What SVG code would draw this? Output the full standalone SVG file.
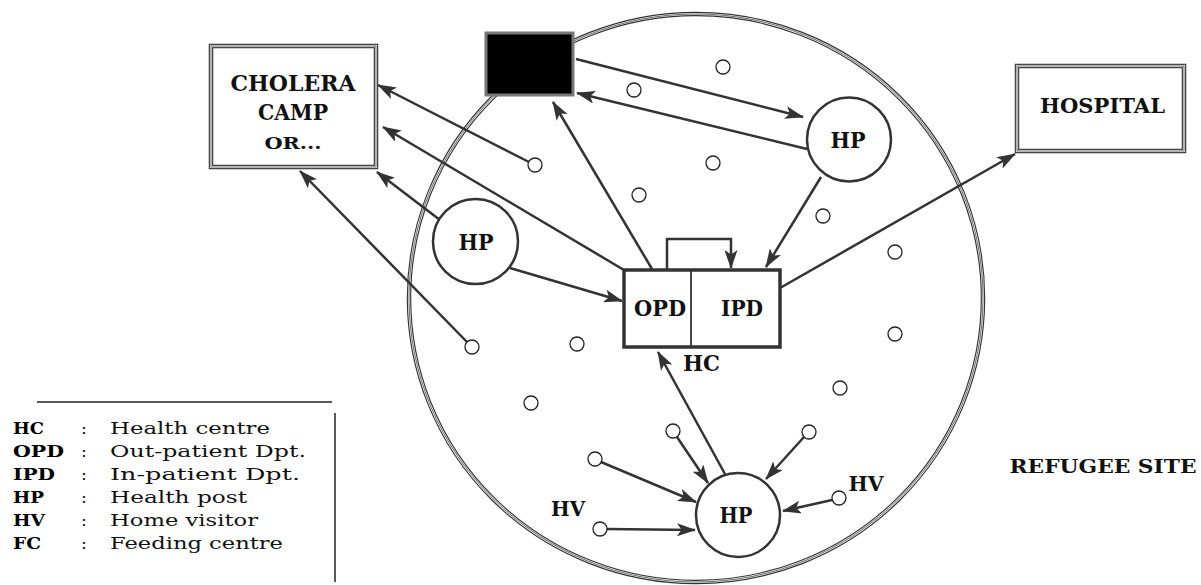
<svg xmlns="http://www.w3.org/2000/svg" width="1201" height="585" viewBox="0 0 1201 585">
<style>
.site{fill:none;stroke:#333;stroke-width:4.5}
.site2{fill:none;stroke:#fff;stroke-width:2.2}
.site3{fill:none;stroke:#444;stroke-width:0.8}
.con{fill:none;stroke:#333;stroke-width:2.5}
.arr{marker-end:url(#ah)}
.hp{fill:#fff;stroke:#333;stroke-width:2.5}
.dot{fill:#fff;stroke:#222;stroke-width:1.3}
.box{fill:#fff;stroke:#333;stroke-width:4.5}
.box2{fill:none;stroke:#fff;stroke-width:2.2}
.box3{fill:none;stroke:#444;stroke-width:0.8}
.b{font-family:"DejaVu Serif","Liberation Serif",serif;font-weight:bold;fill:#111;text-anchor:middle}
.lg{font-family:"DejaVu Serif","Liberation Serif",serif;font-size:17.5px;fill:#111}
.lgb{font-family:"DejaVu Serif","Liberation Serif",serif;font-size:17.5px;font-weight:bold;fill:#000}
</style>
<defs>
<marker id="ah" markerUnits="userSpaceOnUse" viewBox="0 0 19 13" markerWidth="19" markerHeight="13" refX="18" refY="6.5" orient="auto">
<path d="M0,0 L19,6.5 L0,13 L4.5,6.5 Z" fill="#333"/>
</marker>
</defs>
<g id="refugee-site">
<ellipse class="site" cx="696" cy="298" rx="287" ry="284"/>
<ellipse class="site2" cx="696" cy="298" rx="287" ry="284"/>
<ellipse class="site3" cx="696" cy="298" rx="287" ry="284"/>
</g>
<g id="connectors">
<line class="con arr" x1="529" y1="162" x2="378" y2="85"/>
<line class="con arr" x1="624" y1="270" x2="383" y2="127"/>
<line class="con arr" x1="440" y1="220" x2="377" y2="172"/>
<line class="con arr" x1="467" y1="342" x2="300" y2="171"/>
<line class="con arr" x1="510" y1="268" x2="622" y2="301"/>
<line class="con arr" x1="652" y1="269" x2="553" y2="102"/>
<line class="con arr" x1="576" y1="59" x2="803" y2="117"/>
<line class="con arr" x1="807" y1="149" x2="577" y2="93"/>
<line class="con arr" x1="821" y1="177" x2="766" y2="267"/>
<line class="con arr" x1="780" y1="288" x2="1015" y2="154"/>
<path class="con arr" d="M667,270 V239 H731 V268"/>
<line class="con arr" x1="725" y1="474" x2="658" y2="352"/>
<line class="con arr" x1="601" y1="462" x2="696" y2="502"/>
<line class="con arr" x1="677" y1="437" x2="708" y2="483"/>
<line class="con arr" x1="804" y1="437" x2="766" y2="479"/>
<line class="con arr" x1="832" y1="500" x2="783" y2="511"/>
<line class="con arr" x1="607" y1="529" x2="695" y2="530"/>
</g>
<g id="cholera-camp">
<rect class="box" x="211" y="46" width="165" height="121"/>
<rect class="box2" x="211" y="46" width="165" height="121"/>
<rect class="box3" x="211" y="46" width="165" height="121"/>
<text class="b" x="293" y="91" font-size="22" textLength="125" lengthAdjust="spacingAndGlyphs">CHOLERA</text>
<text class="b" x="293" y="120" font-size="22" textLength="70" lengthAdjust="spacingAndGlyphs">CAMP</text>
<text class="b" x="293" y="149" font-size="16.5" textLength="57" lengthAdjust="spacingAndGlyphs">OR...</text>
</g>
<g id="black-box">
<rect x="486" y="33" width="87" height="62" fill="#000" stroke="#777" stroke-width="3"/>
</g>
<g id="hospital">
<rect class="box" x="1017" y="66" width="167" height="85"/>
<rect class="box2" x="1017" y="66" width="167" height="85"/>
<rect class="box3" x="1017" y="66" width="167" height="85"/>
<text class="b" x="1102.5" y="113" font-size="20.5" textLength="125" lengthAdjust="spacingAndGlyphs">HOSPITAL</text>
</g>
<g id="hp-top-right">
<circle class="hp" cx="849" cy="139.5" r="42"/>
<text class="b" x="848" y="148" font-size="22" textLength="35" lengthAdjust="spacingAndGlyphs">HP</text>
</g>
<g id="hp-left">
<circle class="hp" cx="475.5" cy="241.5" r="42.5"/>
<text class="b" x="476" y="250" font-size="22" textLength="35" lengthAdjust="spacingAndGlyphs">HP</text>
</g>
<g id="hp-bottom">
<circle class="hp" cx="738" cy="515" r="42"/>
<text class="b" x="736" y="523" font-size="22" textLength="33" lengthAdjust="spacingAndGlyphs">HP</text>
</g>
<g id="health-centre">
<rect x="624" y="270" width="156" height="77" fill="#fff" stroke="#333" stroke-width="3.5"/>
<line x1="691" y1="270" x2="691" y2="347" stroke="#333" stroke-width="1.8"/>
<text class="b" x="660" y="316" font-size="22" textLength="52" lengthAdjust="spacingAndGlyphs">OPD</text>
<text class="b" x="742" y="316" font-size="22" textLength="42" lengthAdjust="spacingAndGlyphs">IPD</text>
<text class="b" x="701.5" y="371" font-size="22" textLength="37" lengthAdjust="spacingAndGlyphs">HC</text>
</g>
<g id="households">
<circle class="dot" cx="723" cy="67" r="7"/>
<circle class="dot" cx="634" cy="90" r="7"/>
<circle class="dot" cx="713" cy="163" r="7"/>
<circle class="dot" cx="639" cy="195" r="7"/>
<circle class="dot" cx="823" cy="216" r="7"/>
<circle class="dot" cx="535" cy="165" r="7"/>
<circle class="dot" cx="895" cy="252" r="7"/>
<circle class="dot" cx="895" cy="334" r="7"/>
<circle class="dot" cx="840" cy="388" r="7"/>
<circle class="dot" cx="809" cy="432" r="7"/>
<circle class="dot" cx="472" cy="347" r="7"/>
<circle class="dot" cx="577" cy="344" r="7"/>
<circle class="dot" cx="531" cy="403" r="7"/>
<circle class="dot" cx="595" cy="459" r="7"/>
<circle class="dot" cx="673" cy="431" r="7"/>
<circle class="dot" cx="839" cy="498" r="7"/>
<circle class="dot" cx="600" cy="529" r="7"/>
</g>
<g id="hv-labels">
<text class="b" x="568" y="516" font-size="20" textLength="34" lengthAdjust="spacingAndGlyphs">HV</text>
<text class="b" x="866" y="491" font-size="20" textLength="35" lengthAdjust="spacingAndGlyphs">HV</text>
</g>
<g id="site-label">
<text class="b" x="1103" y="473" font-size="19" textLength="187" lengthAdjust="spacingAndGlyphs">REFUGEE SITE</text>
</g>
<g id="legend">
<line x1="37" y1="402" x2="332" y2="402" stroke="#222" stroke-width="1.5"/>
<line x1="335" y1="413" x2="335" y2="582" stroke="#222" stroke-width="1.5"/>
<text class="lgb" x="13" y="434" textLength="31" lengthAdjust="spacingAndGlyphs">HC</text>
<text class="lg" x="81" y="434">:</text>
<text class="lg" x="110" y="434" textLength="160" lengthAdjust="spacingAndGlyphs">Health centre</text>
<text class="lgb" x="13" y="457" textLength="51" lengthAdjust="spacingAndGlyphs">OPD</text>
<text class="lg" x="81" y="457">:</text>
<text class="lg" x="110" y="457" textLength="196" lengthAdjust="spacingAndGlyphs">Out-patient Dpt.</text>
<text class="lgb" x="13" y="480" textLength="42" lengthAdjust="spacingAndGlyphs">IPD</text>
<text class="lg" x="81" y="480">:</text>
<text class="lg" x="110" y="480" textLength="190" lengthAdjust="spacingAndGlyphs">In-patient Dpt.</text>
<text class="lgb" x="13" y="503" textLength="31" lengthAdjust="spacingAndGlyphs">HP</text>
<text class="lg" x="81" y="503">:</text>
<text class="lg" x="110" y="503" textLength="137" lengthAdjust="spacingAndGlyphs">Health post</text>
<text class="lgb" x="13" y="526" textLength="32" lengthAdjust="spacingAndGlyphs">HV</text>
<text class="lg" x="81" y="526">:</text>
<text class="lg" x="110" y="526" textLength="148" lengthAdjust="spacingAndGlyphs">Home visitor</text>
<text class="lgb" x="13" y="549" textLength="28" lengthAdjust="spacingAndGlyphs">FC</text>
<text class="lg" x="81" y="549">:</text>
<text class="lg" x="110" y="549" textLength="173" lengthAdjust="spacingAndGlyphs">Feeding centre</text>
</g>
</svg>
